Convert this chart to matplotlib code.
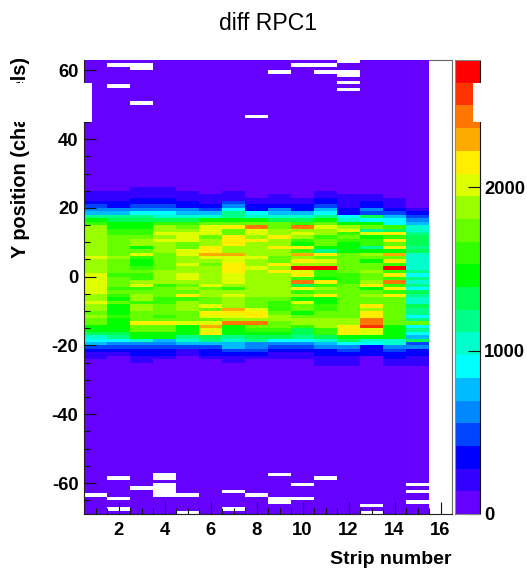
import numpy as np
import matplotlib
matplotlib.use("Agg")
import matplotlib.pyplot as plt
from matplotlib.colors import ListedColormap, BoundaryNorm
from matplotlib.patches import Rectangle
from matplotlib.cm import ScalarMappable

plt.rcParams['font.family'] = ['Liberation Sans', 'DejaVu Sans']
plt.rcParams['axes.unicode_minus'] = False

# counts per strip, top row is y = 25, last row is y = -26
strip_01 = [70,210,210,210,350,490,630,770,1180,1460,1600,1880,1880,1880,1880,1880,1880,1880,1880,1880,2020,1880,1880,1880,1880,2020,2020,2020,2020,2020,2020,1880,1880,2020,1880,1880,1740,1880,1740,1740,1460,1460,1320,1040,900,770,490,350,210,210,70,70]
strip_02 = [70,210,210,210,350,350,630,770,1180,1320,1460,1460,1600,1600,1740,1740,1740,1740,1740,1740,1880,1740,1740,1740,1740,1600,1740,1740,1740,1600,1740,1600,1460,1740,1460,1460,1460,1600,1460,1460,1460,1460,1320,1180,900,630,490,350,210,70,70,70]
strip_03 = [210,210,210,350,350,490,630,900,1180,1320,1460,1460,1600,1600,1740,1880,1880,1460,1740,2020,1600,1460,1460,1600,1740,1600,1600,1880,2020,1600,1740,1880,1880,1600,1880,1880,1740,1740,1740,2160,1740,1740,1460,1460,1040,630,490,350,350,210,210,70]
strip_04 = [210,210,210,350,350,490,630,900,1040,1320,1600,1880,1880,2020,1880,2020,1880,1880,1880,1740,1740,1740,1740,1740,1880,1880,1880,1880,1600,1740,1740,1740,1600,1600,1740,1740,1740,1600,1740,2160,1740,1740,1460,1460,770,630,490,350,350,210,70,70]
strip_05 = [70,210,210,210,350,350,630,770,1040,1320,1600,1740,1880,2020,2020,2020,1740,1740,2020,2020,1880,1880,2020,1880,1880,2020,2020,1880,1740,1880,1740,2160,1600,1880,1880,1880,1740,1740,1740,2020,1460,1460,1460,1180,1040,770,490,210,210,70,70,70]
strip_06 = [70,70,210,210,210,350,490,770,1040,1460,1740,2020,2020,2020,1740,1880,1880,2160,2160,2300,2020,1880,1740,1880,1880,1880,1880,1880,2020,1740,1880,1880,1740,1740,2020,1740,2160,2020,1740,2020,2300,2020,2160,1320,1180,770,490,350,350,210,70,70]
strip_07 = [70,210,210,210,490,630,900,1180,1180,1460,1740,2160,1740,1740,2160,2160,2160,1880,1880,2300,2020,2020,2160,2160,2160,2020,2020,2020,1880,1600,1880,2020,1880,1880,1880,2300,2160,2020,1880,2430,1460,1460,1460,1180,1040,770,770,490,350,210,210,70]
strip_08 = [70,70,70,210,210,350,350,900,1040,1460,1740,2430,2020,2020,1880,2160,1880,1880,1880,1880,2020,1880,1880,2020,1880,1880,1880,1880,1880,1880,1880,1880,1740,1740,1740,2020,2160,2160,1880,2430,1740,1600,1460,1320,1180,630,630,490,350,210,70,70]
strip_09 = [70,70,210,210,210,350,630,770,1040,1320,1740,1740,1880,1880,2160,1880,1880,2160,1880,1880,1740,1740,2160,1880,2160,1880,1880,1880,1880,1880,1880,1880,1740,1600,1600,1600,1740,1880,1880,1740,1740,1600,1460,1320,900,630,490,350,210,210,70,70]
strip_10 = [70,70,70,210,210,350,350,770,1040,1320,1600,2430,1880,2020,1880,1600,1460,2160,1600,2300,1880,2160,1880,2710,2020,2160,1600,2430,1320,2160,1600,1880,1460,2020,1740,1740,1460,1740,1880,1880,1600,1320,1320,1180,900,630,490,350,210,210,70,70]
strip_11 = [70,210,210,350,350,490,770,900,1180,1460,1740,2020,1880,1880,1600,1740,1740,1460,1180,2160,1740,2020,1880,2710,1600,1600,1460,2160,1600,1880,1740,2160,1460,1460,1600,1600,1740,1740,1880,1880,1880,1600,1600,1320,1040,770,630,350,350,210,210,210]
strip_12 = [70,70,210,210,210,210,350,350,900,1040,1460,1880,2020,1600,1740,1600,1460,1460,1460,1740,1740,1740,1740,1740,1740,1600,1600,1600,1740,1740,1740,1740,1740,1740,1740,1740,1740,1740,1880,1880,2160,2160,2160,1460,1320,900,630,490,350,210,210,210]
strip_13 = [70,70,210,210,350,350,630,490,1320,900,1460,1740,1180,2020,1460,1600,1600,1180,1460,1880,1740,1460,1740,1740,1880,1740,1740,1880,2160,1460,1740,1880,1740,1740,2160,1880,2160,2160,2430,2430,2570,2020,2020,1460,1040,900,350,350,350,70,70,70]
strip_14 = [70,70,70,210,210,210,350,490,770,900,900,1600,1320,2160,1600,2160,1740,2160,1460,2300,1740,2160,1600,2710,1600,2160,1600,2430,1600,2160,1600,2160,1740,1740,1740,1740,1740,1740,1740,1740,1460,1460,1460,1460,1040,1040,630,490,350,350,210,210]
strip_15 = [70,70,70,70,70,70,210,350,490,630,770,1040,1040,1180,1320,1320,1320,1180,1320,1040,1040,1040,1040,1040,1180,900,1180,1040,1180,900,1320,1180,1040,1040,1320,1180,1180,900,1180,1740,900,1180,900,770,1320,490,630,350,350,210,210,210]

# flat level outside the band
outer_counts = 60

# empty bins (strip, lower edge of the y bin)
empty_strip = [2, 3, 3, 2, 9, 10, 11, 11, 12, 12, 12, 12, 12, 3, 8,
               2, 4, 4, 9, 11, 3, 4, 4, 4, 4, 10, 15, 15, 15, 1, 2, 2,
               5, 5, 7, 7, 8, 9, 9, 10, 13, 13]
empty_y = [61, 60, 61, 55, 59, 61, 61, 59, 62, 58, 59, 56, 54, 50, 46,
           -59, -59, -58, -58, -59, -62, -61, -62, -63, -64, -61, -61, -63, -66, -64, -65, -68,
           -64, -69, -63, -68, -64, -65, -66, -65, -67, -69]

level_colors = ['#6600ff', '#3300ff', '#0000ff', '#0044ff', '#0088ff',
                '#00bbff', '#00ffff', '#00ffcc', '#00ff88', '#00ff55',
                '#00ff00', '#33ff00', '#66ff00', '#99ff00', '#ddff00',
                '#ffee00', '#ffaa00', '#ff7700', '#ff3300', '#ff0000']
max_counts = 2780

strips = [strip_01, strip_02, strip_03, strip_04, strip_05, strip_06, strip_07, strip_08,
          strip_09, strip_10, strip_11, strip_12, strip_13, strip_14, strip_15]

x_edges = np.arange(0.5, 17.5, 1)
y_edges = np.arange(-69, 64, 1)
grid = np.full((len(y_edges) - 1, len(x_edges) - 1), float(outer_counts))
grid[:, 15] = np.nan
for n, s in enumerate(strips):
    assert len(s) == 52
    for i, val in enumerate(s):
        grid[25 - i + 69, n] = val
for s, y in zip(empty_strip, empty_y):
    grid[y + 69, s - 1] = np.nan

cmap = ListedColormap(level_colors)
cmap.set_bad('white')
bounds = np.linspace(0, max_counts, len(level_colors) + 1)
norm = BoundaryNorm(bounds, cmap.N)

W, H = 527, 571
fig = plt.figure(figsize=(W / 100, H / 100), dpi=100)
ax = fig.add_axes([84 / W, (H - 514) / H, 368 / W, 454 / H])
ax.pcolormesh(x_edges, y_edges, np.ma.masked_invalid(grid), cmap=cmap, norm=norm,
              antialiased=False, linewidth=0)
ax.set_xlim(0.5, 16.5)
ax.set_ylim(-69, 63)
ax.set_axisbelow(False)

ax.set_xticks(np.arange(2, 17, 2))
ax.set_xticks(np.arange(1, 16.5, 0.5), minor=True)
ax.set_yticks(np.arange(-60, 61, 20))
ax.set_yticks(np.arange(-65, 63, 5), minor=True)
ax.tick_params(which='major', direction='in', length=8.6, width=0.8, color='#111111',
               labelsize=13.3, pad=4)
ax.tick_params(which='minor', direction='in', length=4.3, width=0.8, color='#111111')
for lab in ax.get_xticklabels() + ax.get_yticklabels():
    lab.set_fontweight('bold')
ax.tick_params(axis='x', which='major', pad=6)

ax.spines['top'].set_bounds(15.5, 16.5)
ax.spines['top'].set_color('#666666')
ax.spines['right'].set_color('#666666')
ax.spines['left'].set_color('#222222')
ax.spines['bottom'].set_color('#222222')

ax.set_xlabel('Strip number', fontsize=14, fontweight='bold', ha='right', va='center')
ax.xaxis.set_label_coords(1.0, -(560 - 514) / 454)
ax.set_ylabel('Y position (channels)', fontsize=14.3, fontweight='bold', ha='right', va='center')
ax.yaxis.set_label_coords((21 - 84) / 368, 1.006)

fig.text(268 / W, 1 - 23 / H, 'diff RPC1', fontsize=16.6, ha='center', va='center')

cax = fig.add_axes([455 / W, (H - 514) / H, 25 / W, 454 / H])
cb = fig.colorbar(ScalarMappable(norm=norm, cmap=cmap), cax=cax, spacing='proportional',
                  ticks=[0, 1000, 2000], drawedges=False)
cax.yaxis.set_minor_locator(plt.NullLocator())
cb.outline.set_visible(False)
cax.tick_params(which='major', direction='in', length=8.6, width=0.8, color='#111111',
                labelsize=13.3, pad=3, right=True, left=False)
cb.set_ticklabels(['0', '1000', '2000'])
for lab in cax.get_yticklabels():
    lab.set_fontweight('bold')
for side, c in [('left', '#888888'), ('right', '#111111'), ('top', '#888888'), ('bottom', '#888888')]:
    cax.spines[side].set_visible(True)
    cax.spines[side].set_color(c)
    cax.spines[side].set_linewidth(0.8)

# white strips that cover the label and frame in the reference
for x0, x1 in [(0, 92), (473, 482)]:
    fig.add_artist(Rectangle((x0 / W, 1 - 122 / H), (x1 - x0) / W, 39 / H,
                             transform=fig.transFigure, facecolor='white',
                             edgecolor='none', zorder=5))

fig.savefig('out.png', dpi=100)
